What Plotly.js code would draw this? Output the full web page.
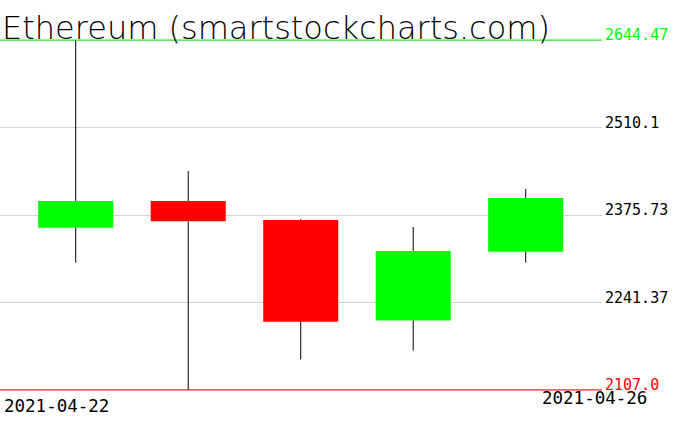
<!DOCTYPE html>
<html>
<head>
<meta charset="utf-8">
<script src="https://cdn.plot.ly/plotly-3.0.1.min.js"></script>
<style>html,body{margin:0;padding:0;background:#fff;}#chart{width:676px;height:431px;}</style>
</head>
<body>
<div id="chart"></div>
<script>
const dates = ["2021-04-22", "2021-04-23", "2021-04-24", "2021-04-25", "2021-04-26"];
const openV = [2356.2, 2397.2, 2368.1, 2213.5, 2319.4];
const highV = [2644.47, 2443.3, 2369.7, 2357.3, 2415.7];
const lowV = [2302.5, 2107.0, 2154.2, 2167.4, 2302.5];
const closeV = [2397.2, 2366.0, 2211.9, 2320.5, 2401.9];
const yTickVals = [2107.0, 2241.37, 2375.73, 2510.1, 2644.47];
const yTickText = ["2107.0", "2241.37", "2375.73", "2510.1", "2644.47"];
const titleText = "Ethereum (smartstockcharts.com)";

const idx = dates.map((d, i) => i);
const bodyLo = openV.map((o, i) => Math.min(o, closeV[i]));
const bodyHi = openV.map((o, i) => Math.max(o, closeV[i]));
const colors = openV.map((o, i) => closeV[i] >= o ? "#00ff00" : "#ff0000");

const wx = [], wy = [];
idx.forEach(i => {
  wx.push(i, i, null, i, i, null);
  wy.push(lowV[i], bodyLo[i], null, bodyHi[i], highV[i], null);
});

const yMin = Math.min(...lowV);
const yMax = Math.max(...highV);
const pad = 1.6;

const traces = [
  {
    type: "bar", x: idx, base: bodyLo, y: bodyHi.map((h, i) => h - bodyLo[i]),
    width: 0.667, marker: {color: colors, line: {width: 0}}, hoverinfo: "skip", showlegend: false
  },
  {
    type: "scatter", mode: "lines", x: wx, y: wy,
    line: {color: "#000000", width: 1}, hoverinfo: "skip", showlegend: false
  }
];

const tickColors = yTickVals.map(v => v === yMin ? "#ff0000" : (v === yMax ? "#00ff00" : "#000000"));

const layout = {
  width: 676, height: 431,
  margin: {l: 0, r: 74, t: 39, b: 40, pad: 0},
  paper_bgcolor: "#ffffff", plot_bgcolor: "#ffffff",
  showlegend: false,
  xaxis: {
    range: [-0.673, 4.678], showgrid: false, zeroline: false, showticklabels: false,
    showline: false, ticks: "", fixedrange: true
  },
  yaxis: {
    range: [yMin - pad, yMax + pad], side: "right", tickmode: "array", tickvals: yTickVals,
    ticktext: yTickText.map((t, i) => '<span style="color:' + tickColors[i] + '">' + t + '</span>'),
    showgrid: true, gridcolor: "#d3d3d3", gridwidth: 1, zeroline: false, showline: false,
    ticks: "", ticklabelstandoff: 2, ticklabelshift: -5,
    tickfont: {family: "DejaVu Sans Mono", size: 15, color: "#000000"}
  },
  shapes: [
    {type: "line", xref: "paper", yref: "y", x0: 0, x1: 1, y0: yMax, y1: yMax, line: {color: "#00ff00", width: 1}},
    {type: "line", xref: "paper", yref: "y", x0: 0, x1: 1, y0: yMin, y1: yMin, line: {color: "#ff0000", width: 1}}
  ],
  annotations: [
    {text: titleText, xref: "paper", yref: "paper", x: 0, y: 1, xanchor: "left", yanchor: "bottom",
     xshift: 0, yshift: -10, showarrow: false,
     font: {family: "DejaVu Sans ExtraLight, DejaVu Sans", size: 32, color: "#000000", weight: 200}},
    {text: dates[0], xref: "paper", yref: "paper", x: 0, y: 0, xanchor: "left", yanchor: "top",
     xshift: 2, yshift: -3, showarrow: false, font: {family: "DejaVu Sans Mono", size: 17.5, color: "#000000"}},
    {text: dates[dates.length - 1], xref: "paper", yref: "paper", x: 1, y: 0, xanchor: "right", yanchor: "top",
     xshift: 47, yshift: 5, showarrow: false, font: {family: "DejaVu Sans Mono", size: 17.5, color: "#000000"}}
  ]
};

Plotly.newPlot("chart", traces, layout, {displayModeBar: false, staticPlot: true});
</script>
</body>
</html>
